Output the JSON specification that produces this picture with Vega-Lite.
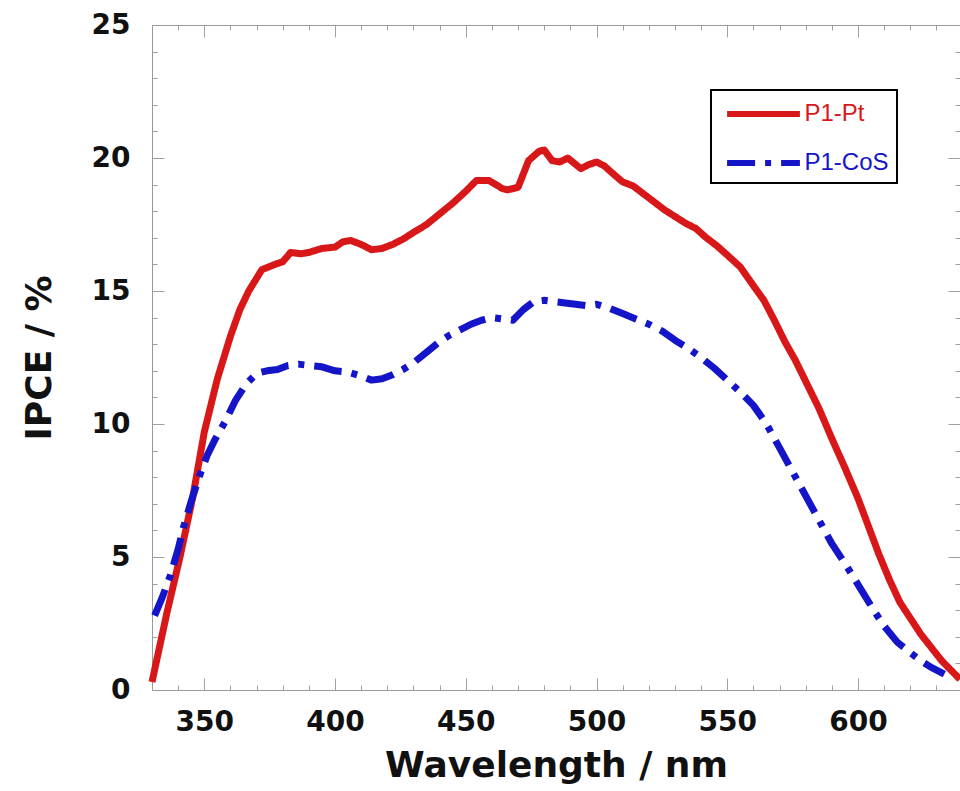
{
  "$schema": "https://vega.github.io/schema/vega-lite/v6.json",
  "width": 808,
  "height": 665,
  "autosize": {"type": "none"},
  "padding": {"left": 152, "top": 25, "right": 0, "bottom": 101},
  "background": "white",
  "config": {
    "view": {"stroke": "#9a9a9a", "strokeWidth": 1},
    "axis": {"grid": false, "domain": false, "tickColor": "#a0a0a0", "tickWidth": 1, "labelOverlap": false, "labelFlush": false}
  },
  "data": {"values": [
    {"series": "P1-Pt", "wl": 330, "ipce": 0.3},
    {"series": "P1-Pt", "wl": 335.7, "ipce": 2.9},
    {"series": "P1-Pt", "wl": 340.7, "ipce": 5.0},
    {"series": "P1-Pt", "wl": 345.6, "ipce": 7.25},
    {"series": "P1-Pt", "wl": 350, "ipce": 9.7},
    {"series": "P1-Pt", "wl": 355, "ipce": 11.7},
    {"series": "P1-Pt", "wl": 360, "ipce": 13.3},
    {"series": "P1-Pt", "wl": 363.6, "ipce": 14.3},
    {"series": "P1-Pt", "wl": 367, "ipce": 15.0},
    {"series": "P1-Pt", "wl": 372, "ipce": 15.8},
    {"series": "P1-Pt", "wl": 377, "ipce": 16.0},
    {"series": "P1-Pt", "wl": 380, "ipce": 16.1},
    {"series": "P1-Pt", "wl": 383, "ipce": 16.45},
    {"series": "P1-Pt", "wl": 387, "ipce": 16.4},
    {"series": "P1-Pt", "wl": 390, "ipce": 16.45},
    {"series": "P1-Pt", "wl": 395, "ipce": 16.6},
    {"series": "P1-Pt", "wl": 400, "ipce": 16.65},
    {"series": "P1-Pt", "wl": 403, "ipce": 16.85},
    {"series": "P1-Pt", "wl": 406, "ipce": 16.9},
    {"series": "P1-Pt", "wl": 410, "ipce": 16.75},
    {"series": "P1-Pt", "wl": 414, "ipce": 16.55},
    {"series": "P1-Pt", "wl": 418, "ipce": 16.6},
    {"series": "P1-Pt", "wl": 422, "ipce": 16.75},
    {"series": "P1-Pt", "wl": 426, "ipce": 16.95},
    {"series": "P1-Pt", "wl": 430, "ipce": 17.2},
    {"series": "P1-Pt", "wl": 435, "ipce": 17.5},
    {"series": "P1-Pt", "wl": 440, "ipce": 17.9},
    {"series": "P1-Pt", "wl": 445, "ipce": 18.3},
    {"series": "P1-Pt", "wl": 450, "ipce": 18.75},
    {"series": "P1-Pt", "wl": 454, "ipce": 19.15},
    {"series": "P1-Pt", "wl": 459, "ipce": 19.15},
    {"series": "P1-Pt", "wl": 464, "ipce": 18.85},
    {"series": "P1-Pt", "wl": 466, "ipce": 18.8},
    {"series": "P1-Pt", "wl": 470, "ipce": 18.9},
    {"series": "P1-Pt", "wl": 474, "ipce": 19.9},
    {"series": "P1-Pt", "wl": 478, "ipce": 20.25},
    {"series": "P1-Pt", "wl": 480, "ipce": 20.3},
    {"series": "P1-Pt", "wl": 483, "ipce": 19.9},
    {"series": "P1-Pt", "wl": 486, "ipce": 19.85},
    {"series": "P1-Pt", "wl": 489, "ipce": 20.0},
    {"series": "P1-Pt", "wl": 494, "ipce": 19.6},
    {"series": "P1-Pt", "wl": 497, "ipce": 19.75},
    {"series": "P1-Pt", "wl": 500, "ipce": 19.85},
    {"series": "P1-Pt", "wl": 503, "ipce": 19.7},
    {"series": "P1-Pt", "wl": 507, "ipce": 19.35},
    {"series": "P1-Pt", "wl": 510, "ipce": 19.1},
    {"series": "P1-Pt", "wl": 514, "ipce": 18.95},
    {"series": "P1-Pt", "wl": 518, "ipce": 18.65},
    {"series": "P1-Pt", "wl": 522, "ipce": 18.35},
    {"series": "P1-Pt", "wl": 526, "ipce": 18.05},
    {"series": "P1-Pt", "wl": 530, "ipce": 17.8},
    {"series": "P1-Pt", "wl": 534, "ipce": 17.55},
    {"series": "P1-Pt", "wl": 538, "ipce": 17.35},
    {"series": "P1-Pt", "wl": 542, "ipce": 17.0},
    {"series": "P1-Pt", "wl": 546, "ipce": 16.7},
    {"series": "P1-Pt", "wl": 550, "ipce": 16.35},
    {"series": "P1-Pt", "wl": 555, "ipce": 15.9},
    {"series": "P1-Pt", "wl": 560, "ipce": 15.2},
    {"series": "P1-Pt", "wl": 564, "ipce": 14.65},
    {"series": "P1-Pt", "wl": 568, "ipce": 13.9},
    {"series": "P1-Pt", "wl": 572, "ipce": 13.1},
    {"series": "P1-Pt", "wl": 576, "ipce": 12.4},
    {"series": "P1-Pt", "wl": 580, "ipce": 11.6},
    {"series": "P1-Pt", "wl": 585, "ipce": 10.6},
    {"series": "P1-Pt", "wl": 590, "ipce": 9.45},
    {"series": "P1-Pt", "wl": 595, "ipce": 8.35},
    {"series": "P1-Pt", "wl": 600, "ipce": 7.2},
    {"series": "P1-Pt", "wl": 604, "ipce": 6.15},
    {"series": "P1-Pt", "wl": 608, "ipce": 5.1},
    {"series": "P1-Pt", "wl": 612, "ipce": 4.15},
    {"series": "P1-Pt", "wl": 616, "ipce": 3.3},
    {"series": "P1-Pt", "wl": 620, "ipce": 2.7},
    {"series": "P1-Pt", "wl": 624, "ipce": 2.1},
    {"series": "P1-Pt", "wl": 628, "ipce": 1.6},
    {"series": "P1-Pt", "wl": 632, "ipce": 1.1},
    {"series": "P1-Pt", "wl": 636, "ipce": 0.7},
    {"series": "P1-Pt", "wl": 639, "ipce": 0.4},
    {"series": "P1-CoS", "wl": 331, "ipce": 2.8},
    {"series": "P1-CoS", "wl": 334, "ipce": 3.5},
    {"series": "P1-CoS", "wl": 337, "ipce": 4.3},
    {"series": "P1-CoS", "wl": 340, "ipce": 5.3},
    {"series": "P1-CoS", "wl": 342, "ipce": 6.1},
    {"series": "P1-CoS", "wl": 345, "ipce": 7.1},
    {"series": "P1-CoS", "wl": 348, "ipce": 8.0},
    {"series": "P1-CoS", "wl": 351, "ipce": 8.8},
    {"series": "P1-CoS", "wl": 354, "ipce": 9.4},
    {"series": "P1-CoS", "wl": 358, "ipce": 10.1},
    {"series": "P1-CoS", "wl": 362, "ipce": 10.9},
    {"series": "P1-CoS", "wl": 366, "ipce": 11.5},
    {"series": "P1-CoS", "wl": 370, "ipce": 11.9},
    {"series": "P1-CoS", "wl": 374, "ipce": 12.0},
    {"series": "P1-CoS", "wl": 378, "ipce": 12.05},
    {"series": "P1-CoS", "wl": 382, "ipce": 12.2},
    {"series": "P1-CoS", "wl": 386, "ipce": 12.25},
    {"series": "P1-CoS", "wl": 390, "ipce": 12.2},
    {"series": "P1-CoS", "wl": 395, "ipce": 12.15},
    {"series": "P1-CoS", "wl": 400, "ipce": 12.0},
    {"series": "P1-CoS", "wl": 405, "ipce": 11.95},
    {"series": "P1-CoS", "wl": 410, "ipce": 11.8},
    {"series": "P1-CoS", "wl": 414, "ipce": 11.65},
    {"series": "P1-CoS", "wl": 418, "ipce": 11.7},
    {"series": "P1-CoS", "wl": 422, "ipce": 11.85},
    {"series": "P1-CoS", "wl": 426, "ipce": 12.05},
    {"series": "P1-CoS", "wl": 430, "ipce": 12.3},
    {"series": "P1-CoS", "wl": 435, "ipce": 12.7},
    {"series": "P1-CoS", "wl": 440, "ipce": 13.1},
    {"series": "P1-CoS", "wl": 444, "ipce": 13.35},
    {"series": "P1-CoS", "wl": 448, "ipce": 13.55},
    {"series": "P1-CoS", "wl": 452, "ipce": 13.75},
    {"series": "P1-CoS", "wl": 456, "ipce": 13.9},
    {"series": "P1-CoS", "wl": 460, "ipce": 14.0},
    {"series": "P1-CoS", "wl": 464, "ipce": 13.95},
    {"series": "P1-CoS", "wl": 468, "ipce": 13.9},
    {"series": "P1-CoS", "wl": 472, "ipce": 14.3},
    {"series": "P1-CoS", "wl": 476, "ipce": 14.6},
    {"series": "P1-CoS", "wl": 480, "ipce": 14.65},
    {"series": "P1-CoS", "wl": 484, "ipce": 14.6},
    {"series": "P1-CoS", "wl": 488, "ipce": 14.55},
    {"series": "P1-CoS", "wl": 492, "ipce": 14.5},
    {"series": "P1-CoS", "wl": 496, "ipce": 14.45},
    {"series": "P1-CoS", "wl": 500, "ipce": 14.5},
    {"series": "P1-CoS", "wl": 505, "ipce": 14.35},
    {"series": "P1-CoS", "wl": 510, "ipce": 14.15},
    {"series": "P1-CoS", "wl": 515, "ipce": 13.95},
    {"series": "P1-CoS", "wl": 520, "ipce": 13.75},
    {"series": "P1-CoS", "wl": 525, "ipce": 13.5},
    {"series": "P1-CoS", "wl": 530, "ipce": 13.15},
    {"series": "P1-CoS", "wl": 535, "ipce": 12.85},
    {"series": "P1-CoS", "wl": 540, "ipce": 12.5},
    {"series": "P1-CoS", "wl": 545, "ipce": 12.1},
    {"series": "P1-CoS", "wl": 550, "ipce": 11.65},
    {"series": "P1-CoS", "wl": 555, "ipce": 11.2},
    {"series": "P1-CoS", "wl": 560, "ipce": 10.7},
    {"series": "P1-CoS", "wl": 565, "ipce": 10.0},
    {"series": "P1-CoS", "wl": 570, "ipce": 9.1},
    {"series": "P1-CoS", "wl": 575, "ipce": 8.2},
    {"series": "P1-CoS", "wl": 580, "ipce": 7.3},
    {"series": "P1-CoS", "wl": 585, "ipce": 6.4},
    {"series": "P1-CoS", "wl": 590, "ipce": 5.5},
    {"series": "P1-CoS", "wl": 596, "ipce": 4.6},
    {"series": "P1-CoS", "wl": 601, "ipce": 3.8},
    {"series": "P1-CoS", "wl": 606, "ipce": 3.0},
    {"series": "P1-CoS", "wl": 610, "ipce": 2.4},
    {"series": "P1-CoS", "wl": 615, "ipce": 1.8},
    {"series": "P1-CoS", "wl": 620, "ipce": 1.4},
    {"series": "P1-CoS", "wl": 624, "ipce": 1.1},
    {"series": "P1-CoS", "wl": 628, "ipce": 0.85},
    {"series": "P1-CoS", "wl": 633, "ipce": 0.6}
  ]},
  "layer": [
    {
      "mark": {"type": "line", "opacity": 0},
      "encoding": {
        "x": {
          "field": "wl", "type": "quantitative",
          "axis": {"orient": "bottom", "values": [350, 400, 450, 500, 550, 600], "labels": false, "title": null, "tickSize": 12, "offset": -12}
        },
        "y": {
          "field": "ipce", "type": "quantitative",
          "axis": {"orient": "left", "values": [5, 10, 15, 20], "labels": false, "title": null, "tickSize": 12, "offset": -12}
        },
        "detail": {"field": "series", "type": "nominal"}
      }
    },
    {
      "mark": {"type": "line", "opacity": 0},
      "encoding": {
        "x": {
          "field": "wl", "type": "quantitative",
          "axis": {"orient": "bottom", "values": [340, 360, 370, 380, 390, 410, 420, 430, 440, 460, 470, 480, 490, 510, 520, 530, 540, 560, 570, 580, 590, 610, 620, 630], "labels": false, "title": null, "tickSize": 5, "offset": -5}
        },
        "y": {
          "field": "ipce", "type": "quantitative",
          "axis": {"orient": "left", "values": [1, 2, 3, 4, 6, 7, 8, 9, 11, 12, 13, 14, 16, 17, 18, 19, 21, 22, 23, 24], "labels": false, "title": null, "tickSize": 5, "offset": -5}
        },
        "detail": {"field": "series", "type": "nominal"}
      }
    },
    {
      "mark": {"type": "line", "opacity": 0},
      "encoding": {
        "x": {
          "field": "wl", "type": "quantitative",
          "axis": {"orient": "top", "values": [350, 400, 450, 500, 550, 600], "labels": false, "title": null, "tickSize": 12, "offset": -12}
        },
        "y": {
          "field": "ipce", "type": "quantitative",
          "axis": {"orient": "right", "values": [5, 10, 15, 20], "labels": false, "title": null, "tickSize": 12, "offset": -12}
        },
        "detail": {"field": "series", "type": "nominal"}
      }
    },
    {
      "mark": {"type": "line", "opacity": 0},
      "encoding": {
        "x": {
          "field": "wl", "type": "quantitative",
          "axis": {"orient": "top", "values": [340, 360, 370, 380, 390, 410, 420, 430, 440, 460, 470, 480, 490, 510, 520, 530, 540, 560, 570, 580, 590, 610, 620, 630], "labels": false, "title": null, "tickSize": 5, "offset": -5}
        },
        "y": {
          "field": "ipce", "type": "quantitative",
          "axis": {"orient": "right", "values": [1, 2, 3, 4, 6, 7, 8, 9, 11, 12, 13, 14, 16, 17, 18, 19, 21, 22, 23, 24], "labels": false, "title": null, "tickSize": 5, "offset": -5}
        },
        "detail": {"field": "series", "type": "nominal"}
      }
    },
    {
      "mark": {"type": "line", "strokeWidth": 7, "strokeJoin": "round"},
      "encoding": {
        "x": {
          "field": "wl", "type": "quantitative",
          "scale": {"domain": [330, 639], "nice": false, "zero": false},
          "axis": {
            "orient": "bottom",
            "values": [350, 400, 450, 500, 550, 600],
            "ticks": false,
            "labelPadding": 40,
            "labelBaseline": "alphabetic",
            "labelFont": "DejaVu Sans", "labelFontWeight": "bold", "labelFontSize": 28, "labelColor": "#111111",
            "title": "Wavelength / nm",
            "titleFont": "DejaVu Sans", "titleFontWeight": "bold", "titleFontSize": 36, "titleColor": "#111111",
            "titleBaseline": "alphabetic", "titleY": 86
          }
        },
        "y": {
          "field": "ipce", "type": "quantitative",
          "scale": {"domain": [0, 25], "nice": false},
          "axis": {
            "orient": "left",
            "values": [0, 5, 10, 15, 20, 25],
            "ticks": false,
            "labelPadding": 22,
            "labelFont": "DejaVu Sans", "labelFontWeight": "bold", "labelFontSize": 28, "labelColor": "#111111",
            "title": "IPCE / %",
            "titleFont": "DejaVu Sans", "titleFontWeight": "bold", "titleFontSize": 36, "titleColor": "#111111",
            "titleAngle": 270, "titleBaseline": "alphabetic", "titleAlign": "center", "titleX": -102, "titleY": 332.5
          }
        },
        "color": {
          "field": "series", "type": "nominal",
          "scale": {"domain": ["P1-Pt", "P1-CoS"], "range": ["#d81818", "#1414c8"]},
          "legend": {
            "orient": "none", "legendX": 559, "legendY": 65, "title": null,
            "symbolType": "M-2.8,0H2.8", "symbolSize": 676, "symbolStrokeWidth": 6, "symbolFillColor": "transparent",
            "symbolOffset": 28.5, "labelOffset": 25, "padding": 8, "rowPadding": 21,
            "labelFont": "Liberation Sans", "labelFontSize": 24,
            "fillColor": "white", "strokeColor": "black",
            "encode": {
              "legend": {"update": {"strokeWidth": {"value": 2}}},
              "labels": {"update": {"fill": {"signal": "datum.value === 'P1-Pt' ? '#d81818' : '#1414c8'"}}}
            }
          }
        },
        "strokeDash": {
          "field": "series", "type": "nominal",
          "scale": {"domain": ["P1-Pt", "P1-CoS"], "range": [[1, 0], [28, 10, 6, 10]]},
          "legend": {
            "orient": "none", "legendX": 559, "legendY": 65, "title": null,
            "symbolType": "M-2.8,0H2.8", "symbolSize": 676, "symbolStrokeWidth": 6, "symbolFillColor": "transparent",
            "symbolOffset": 28.5, "labelOffset": 25, "padding": 8, "rowPadding": 21,
            "labelFont": "Liberation Sans", "labelFontSize": 24,
            "fillColor": "white", "strokeColor": "black",
            "encode": {
              "legend": {"update": {"strokeWidth": {"value": 2}}},
              "labels": {"update": {"fill": {"signal": "datum.value === 'P1-Pt' ? '#d81818' : '#1414c8'"}}}
            }
          }
        }
      }
    }
  ],
  "resolve": {"axis": {"x": "independent", "y": "independent"}}
}
